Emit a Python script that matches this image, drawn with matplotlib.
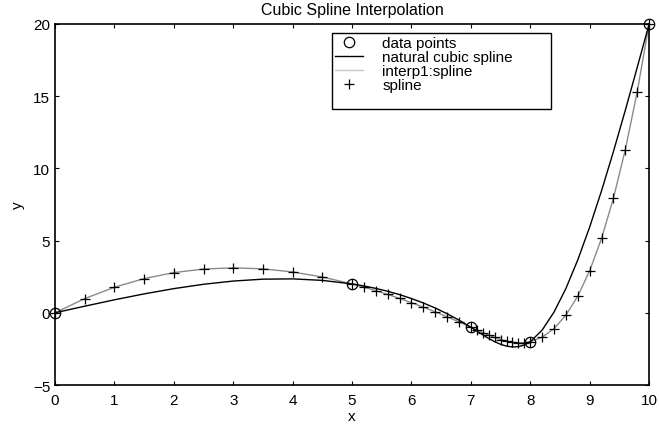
import matplotlib
matplotlib.use("Agg")
import matplotlib.pyplot as plt
from matplotlib.lines import Line2D

plt.rcParams['font.family'] = ['Liberation Sans', 'DejaVu Sans']

# data points
x_data = [0, 5, 7, 8, 10]
y_data = [0, 2, -1, -2, 20]

# evaluation grid
x_eval = [0, 0.5, 1, 1.5, 2, 2.5, 3, 3.5, 4, 4.5, 5,
          5.2, 5.4, 5.6, 5.8, 6, 6.2, 6.4, 6.6, 6.8, 7,
          7.1, 7.2, 7.3, 7.4, 7.5, 7.6, 7.7, 7.8, 7.9, 8,
          8.2, 8.4, 8.6, 8.8, 9, 9.2, 9.4, 9.6, 9.8, 10]

# natural cubic spline values
y_natural = [0, 0.458, 0.900, 1.310, 1.674, 1.976, 2.199, 2.329, 2.349, 2.245, 2.0,
             1.859, 1.690, 1.490, 1.258, 0.988, 0.680, 0.330, -0.065, -0.507, -1.0,
             -1.264, -1.527, -1.777, -1.999, -2.181, -2.308, -2.367, -2.344, -2.226, -2.0,
             -1.193, 0.053, 1.691, 3.671, 5.945, 8.462, 11.176, 14.036, 16.993, 20.0]

# interp1 spline (not-a-knot) values
y_spline = [0, 0.984, 1.771, 2.368, 2.785, 3.030, 3.114, 3.043, 2.828, 2.478, 2.0,
            1.775, 1.533, 1.272, 0.994, 0.700, 0.390, 0.064, -0.276, -0.631, -1.0,
            -1.188, -1.374, -1.550, -1.710, -1.849, -1.960, -2.037, -2.074, -2.063, -2.0,
            -1.690, -1.093, -0.159, 1.161, 2.918, 5.161, 7.941, 11.308, 15.311, 20.0]

x_ticks = [0, 1, 2, 3, 4, 5, 6, 7, 8, 9, 10]
y_ticks = [-5, 0, 5, 10, 15, 20]

fig = plt.figure(figsize=(6.59, 4.27), dpi=100)
ax = fig.add_axes([0.0835, 0.096, 0.9015, 0.8455])

h_data, = ax.plot(x_data, y_data, 'o', mfc='none', mec='black', ms=7.5, mew=0.9,
                  label='data points', zorder=5, clip_on=False)
h_nat, = ax.plot(x_eval, y_natural, '-', color='black', lw=1.0,
                 label='natural cubic spline', zorder=3)
h_int, = ax.plot(x_eval, y_spline, '-', color='#8a8a8a', lw=1.0,
                 label='interp1:spline', zorder=2)
h_sp, = ax.plot(x_eval, y_spline, '+', color='black', ms=7, mew=0.9,
                label='spline', zorder=4, clip_on=False)

ax.set_xlim(0, 10)
ax.set_ylim(-5, 20)
ax.set_xticks(x_ticks)
ax.set_yticks(y_ticks)
ax.tick_params(direction='in', length=3, width=0.8, top=True, right=True,
               labelsize=11, colors='black')
ax.tick_params(axis='x', pad=6)
ax.tick_params(axis='y', pad=3.5)
for s in ax.spines.values():
    s.set_linewidth(1.2)
    s.set_color('black')

ax.set_xlabel('x', fontsize=11, labelpad=1.5)
ax.set_ylabel('y', fontsize=11, labelpad=6)
ax.set_title('Cubic Spline Interpolation', fontsize=11.5, pad=7)

blank = Line2D([], [], linestyle='none', marker='none')
leg = ax.legend(handles=[h_data, h_nat, h_int, h_sp, blank],
                labels=['data points', 'natural cubic spline', 'interp1:spline', 'spline', ' '],
                loc='upper left', bbox_to_anchor=(0.4663, 0.775, 0.3687, 0.2),
                mode='expand',
                fontsize=11, frameon=True, fancybox=False, framealpha=1,
                edgecolor='black', borderpad=0.2, labelspacing=0.0,
                handlelength=1.8, handletextpad=1.3, borderaxespad=0)
leg.get_frame().set_linewidth(1.0)
leg.get_lines()[2].set_color('#c8c8c8')

fig.savefig('out.png', dpi=100)
